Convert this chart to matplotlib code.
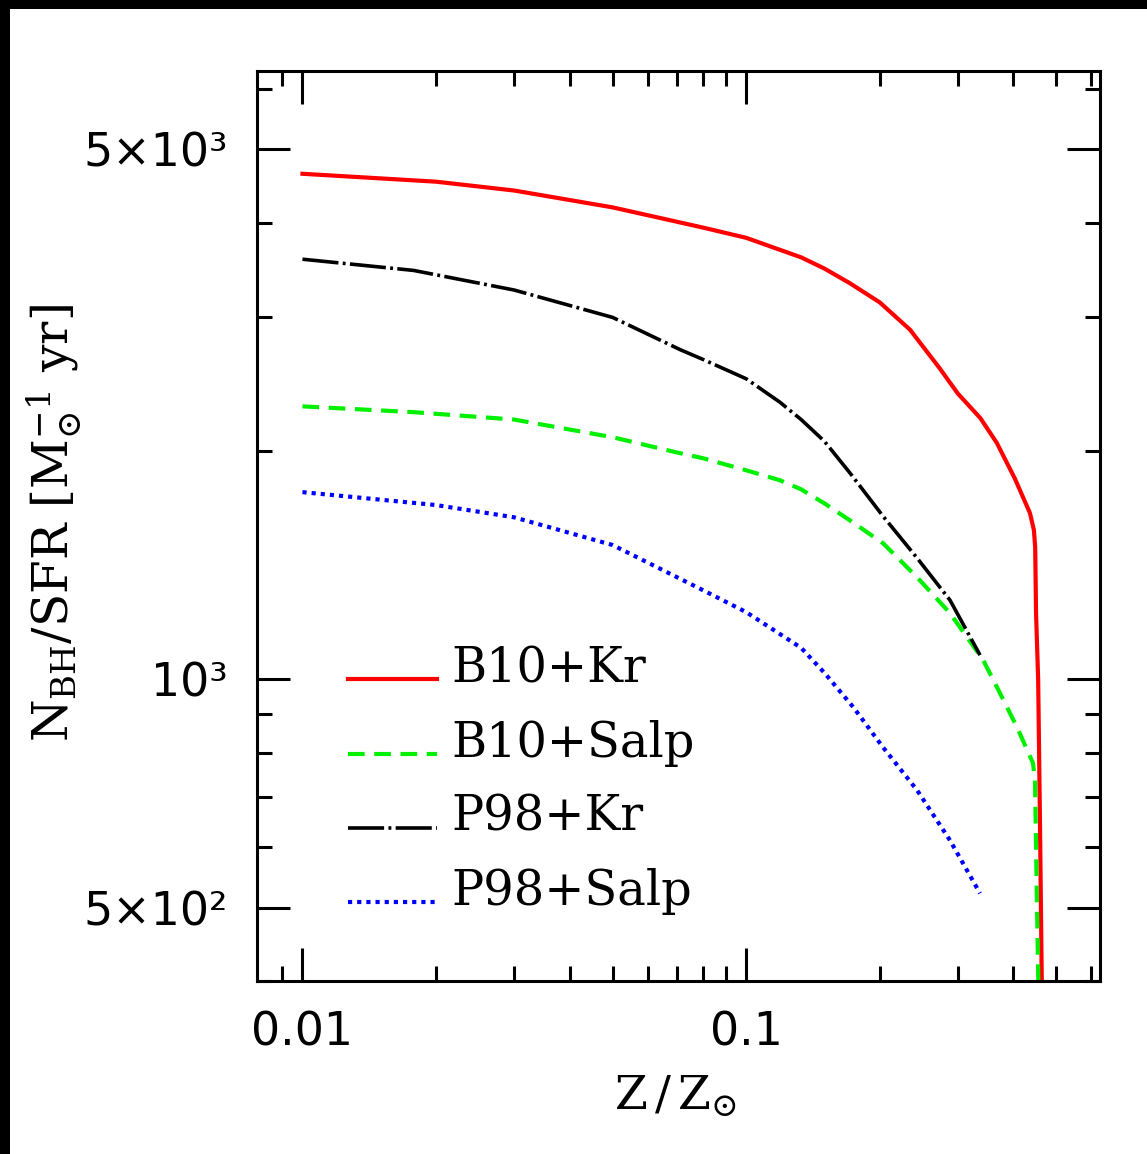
import numpy as np
import matplotlib
matplotlib.use("Agg")
import matplotlib.pyplot as plt
from matplotlib.lines import Line2D
from matplotlib.legend_handler import HandlerLine2D
from matplotlib.patches import Rectangle
from matplotlib.ticker import FixedLocator, FixedFormatter, NullFormatter

# metallicity Z/Zsun and N_BH/SFR
z_b10kr = [0.01, 0.02, 0.03, 0.05, 0.08, 0.1, 0.133, 0.15, 0.171, 0.2, 0.234, 0.273,
           0.3, 0.337, 0.367, 0.403, 0.436, 0.445, 0.448, 0.450, 0.455, 0.459, 0.464]
n_b10kr = [4640, 4530, 4410, 4190, 3940, 3820, 3600, 3480, 3330, 3140, 2890, 2570,
           2380, 2210, 2050, 1840, 1656, 1573, 1493, 1222, 997, 666, 380]

z_b10s = [0.01, 0.0178, 0.03, 0.05, 0.07, 0.08, 0.1, 0.119, 0.133, 0.15, 0.171, 0.2035,
          0.2427, 0.288, 0.342, 0.3734, 0.4078, 0.443, 0.4476, 0.452, 0.456]
n_b10s = [2290, 2250, 2200, 2085, 1990, 1956, 1886, 1830, 1780, 1706, 1621, 1511,
          1363, 1222, 1060, 958, 864, 775, 736, 511, 380]

z_p98kr = [0.01, 0.0178, 0.03, 0.05, 0.071, 0.08, 0.1, 0.119, 0.133, 0.15, 0.1714,
           0.2035, 0.2427, 0.288, 0.3365]
n_p98kr = [3580, 3460, 3260, 3000, 2720, 2640, 2490, 2320, 2200, 2060, 1870,
           1640, 1445, 1271, 1076]

z_p98s = [0.01, 0.02, 0.03, 0.05, 0.08, 0.1, 0.133, 0.15, 0.1745, 0.2035, 0.2427, 0.288, 0.3365]
n_p98s = [1765, 1697, 1635, 1503, 1310, 1226, 1100, 1020, 918, 813, 714, 613, 522]

labels = ["B10+Kr", "B10+Salp", "P98+Kr", "P98+Salp"]

x_major = [0.01, 0.1]
x_major_labels = ["0.01", "0.1"]
x_minor = [0.009, 0.02, 0.03, 0.04, 0.05, 0.06, 0.07, 0.08, 0.09, 0.2, 0.3, 0.4, 0.5, 0.6]
y_major = [500, 1000, 5000]
y_major_labels = ["5×10²", "10³", "5×10³"]
y_minor = [400, 600, 700, 800, 900, 2000, 3000, 4000, 6000]


class BaselineHandler(HandlerLine2D):
    # legend sample sits on the text baseline, as in the original
    def create_artists(self, *args, **kwargs):
        arts = super().create_artists(*args, **kwargs)
        for a in arts:
            a.set_ydata(np.asarray(a.get_ydata()) - 10)
        return arts


fig = plt.figure(figsize=(11.47, 11.54), dpi=100)
fig.patch.set_facecolor("black")
fig.add_artist(Rectangle((10 / 1147, 0), 1, 1145 / 1154, transform=fig.transFigure,
                         facecolor="white", edgecolor="none", zorder=-5))

ax = fig.add_axes([0.2241, 0.1499, 0.7349, 0.7886])
ax.set_xscale("log")
ax.set_yscale("log")

ax.plot(z_b10kr, n_b10kr, color="#ff0000", lw=3, label=labels[0])
ax.plot(z_b10s, n_b10s, color="#00f000", lw=3, dashes=(4, 2.3), label=labels[1])
ax.plot(z_p98kr, n_p98kr, color="black", lw=2.6, dashes=(10, 1.2, 0.8, 1.2), label=labels[2])
ax.plot(z_p98s, n_p98s, color="#0000ff", lw=3, dashes=(1, 1.2), label=labels[3])

ax.set_xlim(0.0079, 0.627)
ax.set_ylim(400, 6340)

ax.xaxis.set_major_locator(FixedLocator(x_major))
ax.xaxis.set_major_formatter(FixedFormatter(x_major_labels))
ax.xaxis.set_minor_locator(FixedLocator(x_minor))
ax.xaxis.set_minor_formatter(NullFormatter())
ax.yaxis.set_major_locator(FixedLocator(y_major))
ax.yaxis.set_major_formatter(FixedFormatter(y_major_labels))
ax.yaxis.set_minor_locator(FixedLocator(y_minor))
ax.yaxis.set_minor_formatter(NullFormatter())

ax.tick_params(which="both", direction="in", top=True, right=True, width=2.2, pad=21)
ax.tick_params(which="major", length=23.5)
ax.tick_params(which="minor", length=10.8)
for lab in ax.get_xticklabels() + ax.get_yticklabels():
    lab.set_fontfamily("DejaVu Sans")
    lab.set_fontsize(33)
for sp in ax.spines.values():
    sp.set_linewidth(2.2)

leg = ax.legend(loc="upper left", bbox_to_anchor=(0.108, 0.369), frameon=False,
                prop={"family": "DejaVu Serif", "size": 34.5}, handlelength=1.85,
                handletextpad=0.3, labelspacing=0.57, borderpad=0, borderaxespad=0,
                handler_map={Line2D: BaselineHandler()})

fig.text(676 / 1147, (1154 - 1110) / 1154, r"$\mathrm{Z\,/\,Z_{\odot}}$", ha="center",
         va="baseline", fontsize=34, math_fontfamily="dejavuserif")
fig.text(70 / 1147, (1154 - 523) / 1154, r"$\mathrm{N_{BH}/SFR\ [M_{\odot}^{-1}\ yr]}$",
         rotation=90, rotation_mode="anchor", ha="center", va="baseline",
         fontsize=35, math_fontfamily="dejavuserif")

fig.savefig("out.png", dpi=100, facecolor=fig.get_facecolor())
